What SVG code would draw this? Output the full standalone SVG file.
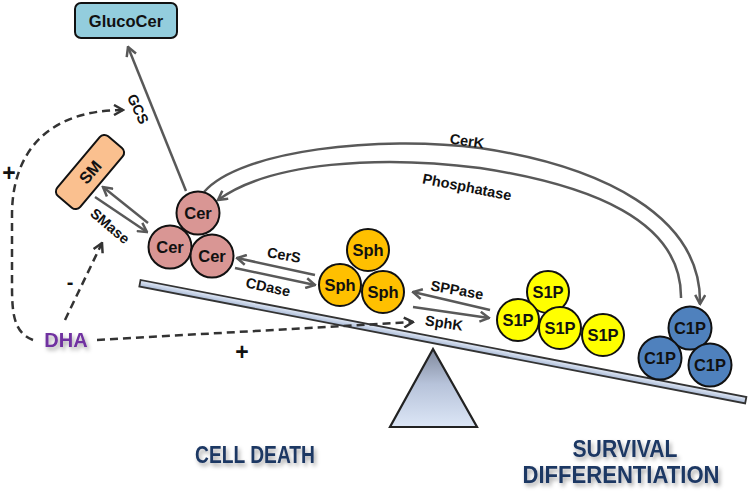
<svg xmlns="http://www.w3.org/2000/svg" width="750" height="495" viewBox="0 0 750 495">
<defs>
<style>
.lbl{font-family:"Liberation Sans",Arial,sans-serif;font-weight:bold;fill:#111;}
.enz{font-size:14.5px;}
.ball{stroke:#111;stroke-width:2;}
.ballt{font-family:"Liberation Sans",Arial,sans-serif;font-weight:bold;font-size:16.5px;fill:#111;text-anchor:middle;}
.cer{fill:#D99694;}
.sph{fill:#FFC000;}
.s1p{fill:#FFFF00;}
.c1p{fill:#4F81BD;}
.con{fill:none;stroke:#595959;stroke-width:2.5;}
.dash{fill:none;stroke:#333;stroke-width:2.5;stroke-dasharray:8,5;}
.big{font-family:"Liberation Sans",Arial,sans-serif;font-weight:bold;font-size:23px;fill:#1F3864;text-anchor:middle;}
</style>
<marker id="ah" viewBox="0 0 12 12" refX="10.5" refY="6" markerWidth="12" markerHeight="12" markerUnits="userSpaceOnUse" orient="auto">
<path d="M1.5,1 L10.5,6 L1.5,11" fill="none" stroke="#595959" stroke-width="2.5"/>
</marker>
<marker id="ahd" viewBox="0 0 12 12" refX="10.5" refY="6" markerWidth="12" markerHeight="12" markerUnits="userSpaceOnUse" orient="auto">
<path d="M1.5,1 L10.5,6 L1.5,11" fill="none" stroke="#333" stroke-width="2.5"/>
</marker>
<filter id="sh" x="-20%" y="-30%" width="140%" height="170%">
<feDropShadow dx="2" dy="3" stdDeviation="2" flood-color="#000" flood-opacity="0.35"/>
</filter>
<linearGradient id="beamg" x1="0" y1="0" x2="0" y2="1">
<stop offset="0" stop-color="#e4ebf7"/>
<stop offset="1" stop-color="#a9bad6"/>
</linearGradient>
<linearGradient id="trig" x1="0" y1="0" x2="0" y2="1">
<stop offset="0" stop-color="#7f889c"/>
<stop offset="0.45" stop-color="#b7c3da"/>
<stop offset="1" stop-color="#dce6f6"/>
</linearGradient>
</defs>
<rect width="750" height="495" fill="#fff"/>

<g id="balance">
<polygon points="433,349 390,427 477,427" fill="url(#trig)" stroke="#222" stroke-width="2.2" stroke-linejoin="miter"/>
<rect x="0" y="-3" width="617" height="6.5" transform="translate(140,283) rotate(10.93)" fill="url(#beamg)" stroke="#333" stroke-width="1.8"/>
</g>

<g id="connectors">
<path class="con" d="M186,191 L128,47" marker-end="url(#ah)"/>
<path class="con" d="M148,223 L103,187" marker-end="url(#ah)"/>
<path class="con" d="M95,197 L147,232" marker-end="url(#ah)"/>
<path class="con" d="M315,275 L237,258" marker-end="url(#ah)"/>
<path class="con" d="M235,268 L315,285" marker-end="url(#ah)"/>
<path class="con" d="M490,310 L413,292" marker-end="url(#ah)"/>
<path class="con" d="M413,307 L489,318" marker-end="url(#ah)"/>
<path class="con" d="M204,192 C240,150 380,135 480,148 C600,166 702,215 700,304" marker-end="url(#ah)"/>
<path class="con" d="M681,298 C682,220 590,185 480,168 C380,155 270,162 218,200" marker-end="url(#ah)"/>
<path class="dash" d="M33,340 C12,332 12,310 12,280 L12,215 C12,150 50,110 123,110" marker-end="url(#ahd)"/>
<path class="dash" d="M65,320 L102,243" marker-end="url(#ahd)"/>
<path class="dash" d="M97,340 L413,322" marker-end="url(#ahd)"/>
</g>

<g id="labels">
<text class="lbl enz" transform="translate(138,109) rotate(65)" text-anchor="middle" dy="5">GCS</text>
<text class="lbl enz" transform="translate(110,226) rotate(40)" text-anchor="middle" dy="5">SMase</text>
<text class="lbl enz" transform="translate(284,255) rotate(10)" text-anchor="middle" dy="5">CerS</text>
<text class="lbl enz" transform="translate(268,287) rotate(12)" text-anchor="middle" dy="5">CDase</text>
<text class="lbl enz" transform="translate(457,290) rotate(10)" text-anchor="middle" dy="5">SPPase</text>
<text class="lbl enz" transform="translate(444,323) rotate(8)" text-anchor="middle" dy="5">SphK</text>
<text class="lbl enz" transform="translate(467,141) rotate(8)" text-anchor="middle" dy="5">CerK</text>
<text class="lbl enz" transform="translate(467,187) rotate(11)" text-anchor="middle" dy="5">Phosphatase</text>
<text class="lbl" x="9" y="181" font-size="23" text-anchor="middle">+</text>
<text class="lbl" x="242" y="360" font-size="23" text-anchor="middle">+</text>
<text class="lbl" x="70" y="289" font-size="20" text-anchor="middle">-</text>
</g>

<g id="GlucoCer">
<rect x="75" y="3" width="102" height="35" rx="6" fill="#93CDDD" stroke="#111" stroke-width="2"/>
<text class="ballt" x="126" y="26.5">GlucoCer</text>
</g>

<g id="SM" transform="translate(90,172) rotate(-50)">
<rect x="-39" y="-15" width="78" height="30" rx="6" fill="#FAC08F" stroke="#111" stroke-width="2"/>
<text class="ballt" x="0" y="6" font-size="16">SM</text>
</g>

<g id="DHA">
<text x="66" y="347" font-family="Liberation Sans, Arial, sans-serif" font-weight="bold" font-size="20" fill="#7030A0" text-anchor="middle" filter="url(#sh)">DHA</text>
</g>

<g id="Cer">
<circle class="ball cer" cx="198" cy="213" r="21.5"/>
<circle class="ball cer" cx="170" cy="247" r="21.5"/>
<circle class="ball cer" cx="212" cy="256" r="21.5"/>
<text class="ballt" x="198" y="219">Cer</text>
<text class="ballt" x="170" y="253">Cer</text>
<text class="ballt" x="212" y="262">Cer</text>
</g>

<g id="Sph">
<circle class="ball sph" cx="368" cy="250" r="21"/>
<circle class="ball sph" cx="340" cy="285" r="21"/>
<circle class="ball sph" cx="383" cy="292" r="21"/>
<text class="ballt" x="368" y="256">Sph</text>
<text class="ballt" x="340" y="291">Sph</text>
<text class="ballt" x="383" y="298">Sph</text>
</g>

<g id="S1P">
<circle class="ball s1p" cx="548" cy="292" r="21"/>
<circle class="ball s1p" cx="518" cy="320" r="21"/>
<circle class="ball s1p" cx="560" cy="328" r="21"/>
<circle class="ball s1p" cx="603" cy="335" r="21"/>
<text class="ballt" x="548" y="298">S1P</text>
<text class="ballt" x="518" y="326">S1P</text>
<text class="ballt" x="560" y="334">S1P</text>
<text class="ballt" x="603" y="341">S1P</text>
</g>

<g id="C1P">
<circle class="ball c1p" cx="690" cy="328" r="21.5"/>
<circle class="ball c1p" cx="660" cy="358" r="21.5"/>
<circle class="ball c1p" cx="710" cy="365" r="21.5"/>
<text class="ballt" x="690" y="334">C1P</text>
<text class="ballt" x="660" y="364">C1P</text>
<text class="ballt" x="710" y="371">C1P</text>
</g>

<g id="outcomes">
<text class="big" x="255" y="463" textLength="120" lengthAdjust="spacingAndGlyphs" filter="url(#sh)">CELL DEATH</text>
<text class="big" x="625" y="457" textLength="105" lengthAdjust="spacingAndGlyphs" filter="url(#sh)">SURVIVAL</text>
<text class="big" x="621" y="483" textLength="197" lengthAdjust="spacingAndGlyphs" filter="url(#sh)">DIFFERENTIATION</text>
</g>
</svg>
